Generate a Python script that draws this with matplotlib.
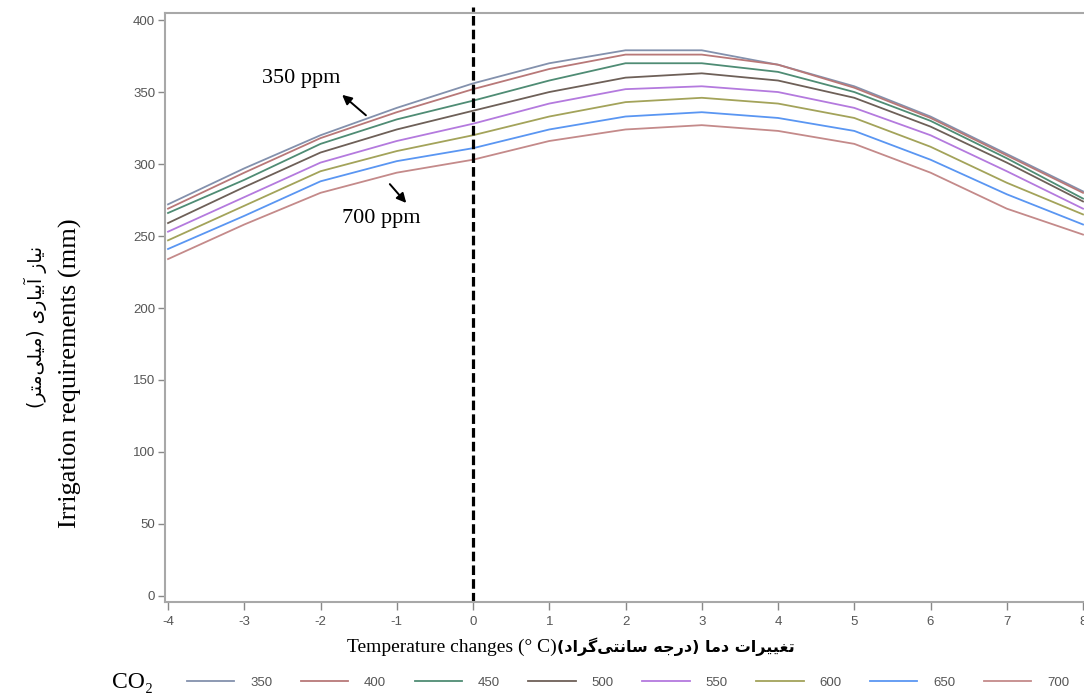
import numpy as np
import matplotlib.pyplot as plt

plt.rcParams['axes.unicode_minus'] = False

# temperature change steps and irrigation requirement (mm) per CO2 level
temp = [-4, -3, -2, -1, 0, 1, 2, 3, 4, 5, 6, 7, 8]
co2_levels = ['350', '400', '450', '500', '550', '600', '650', '700']
c350 = [272, 297, 320, 339, 356, 370, 379, 379, 369, 354, 333, 307, 281]
c400 = [269, 294, 318, 336, 352, 366, 376, 376, 369, 353, 332, 306, 280]
c450 = [266, 289, 314, 331, 344, 358, 370, 370, 364, 350, 330, 304, 276]
c500 = [259, 284, 308, 324, 337, 350, 360, 363, 358, 346, 326, 301, 274]
c550 = [253, 277, 301, 316, 328, 342, 352, 354, 350, 339, 320, 295, 269]
c600 = [247, 271, 295, 309, 320, 333, 343, 346, 342, 332, 312, 287, 265]
c650 = [241, 264, 288, 302, 311, 324, 333, 336, 332, 323, 303, 279, 258]
c700 = [234, 258, 280, 294, 303, 316, 324, 327, 323, 314, 294, 269, 251]
series = [c350, c400, c450, c500, c550, c600, c650, c700]
colors = ['#8391ad', '#b87878', '#4f8c74', '#6e6058', '#b47ade', '#a3a35a', '#5a96f2', '#c48a8a']

yticks = [0, 50, 100, 150, 200, 250, 300, 350, 400]

xlab_en = 'Temperature changes (° C)'
xlab_fa = 'تغییرات دما (درجه سانتی‌گراد)'
ylab_en = 'Irrigation requirements (mm)'
ylab_fa = 'نیاز آبیاری (میلی‌متر)'

# matplotlib does no arabic shaping, so pick presentation forms by hand
FORMS = {
    'ا': ('\uFE8D', '\uFE8E', None, None),
    'آ': ('\uFE81', '\uFE82', None, None),
    'ب': ('\uFE8F', '\uFE90', '\uFE91', '\uFE92'),
    'ت': ('\uFE95', '\uFE96', '\uFE97', '\uFE98'),
    'ج': ('\uFE9D', '\uFE9E', '\uFE9F', '\uFEA0'),
    'د': ('\uFEA9', '\uFEAA', None, None),
    'ر': ('\uFEAD', '\uFEAE', None, None),
    'ز': ('\uFEAF', '\uFEB0', None, None),
    'س': ('\uFEB1', '\uFEB2', '\uFEB3', '\uFEB4'),
    'غ': ('\uFECD', '\uFECE', '\uFECF', '\uFED0'),
    'گ': ('\uFB92', '\uFB93', '\uFB94', '\uFB95'),
    'ل': ('\uFEDD', '\uFEDE', '\uFEDF', '\uFEE0'),
    'م': ('\uFEE1', '\uFEE2', '\uFEE3', '\uFEE4'),
    'ن': ('\uFEE5', '\uFEE6', '\uFEE7', '\uFEE8'),
    'ه': ('\uFEE9', '\uFEEA', '\uFEEB', '\uFEEC'),
    'ی': ('\uFEEF', '\uFEF0', '\uFEF3', '\uFEF4'),
}


def shape(s):
    def dual(c):
        return c in FORMS and FORMS[c][2] is not None
    out = []
    for i, c in enumerate(s):
        if c == '\u200c':
            continue
        if c not in FORMS:
            out.append(c)
            continue
        prev = s[i - 1] if i > 0 else ''
        nxt = s[i + 1] if i + 1 < len(s) else ''
        jp = dual(prev)
        jn = dual(c) and nxt in FORMS
        iso, fin, ini, med = FORMS[c]
        out.append(med if (jp and jn) else fin if jp else ini if jn else iso)
    vis = ''.join(reversed(out))
    return vis.translate(str.maketrans('()', ')('))


fig = plt.figure(figsize=(10.84, 6.95), dpi=100)
ax = fig.add_axes([0.1522, 0.1338, 0.8478, 0.8475])

lines = []
for lvl, vals, col in zip(co2_levels, series, colors):
    ln, = ax.plot(temp, vals, color=col, lw=1.3, label=lvl)
    lines.append(ln)

ax.axvline(0, color='black', lw=2.3, linestyle=(0, (3, 1.3)), ymax=1.01, clip_on=False)

ax.set_xlim(-4.04, 8.013)
ax.set_ylim(-4.2, 404.9)
ax.set_xticks(temp)
ax.set_yticks(yticks)

tick_font = ['Liberation Sans Narrow', 'Liberation Sans', 'DejaVu Sans']
for lab in ax.get_xticklabels() + ax.get_yticklabels():
    lab.set_family(tick_font)
    lab.set_fontsize(9.5)
    lab.set_color('#555555')
ax.tick_params(axis='both', direction='out', length=5, width=1, color='#888888')
ax.tick_params(axis='x', length=6, pad=4)
ax.tick_params(axis='y', pad=2)

for side in ['left', 'bottom', 'top']:
    ax.spines[side].set_color('#a8a8a8')
    ax.spines[side].set_linewidth(1.5)
ax.spines['right'].set_visible(False)

# annotations for the two extreme CO2 levels
ax.annotate('', xy=(-1.744, 349.3), xytext=(-1.377, 332.6),
            arrowprops=dict(arrowstyle='-|>', color='black', lw=1.4, mutation_scale=14))
ax.text(-2.256, 359.7, '350 ppm', ha='center', va='center', fontsize=16, family='Liberation Serif')
ax.annotate('', xy=(-0.852, 271.5), xytext=(-1.115, 287.5),
            arrowprops=dict(arrowstyle='-|>', color='black', lw=1.4, mutation_scale=14))
ax.text(-1.207, 262.5, '700 ppm', ha='center', va='center', fontsize=16, family='Liberation Serif')

# axis titles (english + persian)
fig.text(0.514, 0.069, xlab_en, ha='right', va='center', fontsize=14, family='Liberation Serif')
fig.text(0.514, 0.069, shape(xlab_fa), ha='left', va='center', fontsize=11.5,
         weight='bold', family='DejaVu Sans')
fig.text(0.065, 0.463, ylab_en, ha='center', va='center', rotation=90, fontsize=19,
         family='Liberation Serif')
fig.text(0.033, 0.53, shape(ylab_fa), ha='center', va='center', rotation=90, fontsize=13.5,
         family='DejaVu Sans')

# legend row
fig.text(0.122, 0.0175, 'CO₂', ha='center', va='center', fontsize=17,
         family=['Liberation Serif', 'DejaVu Serif'])
leg = fig.legend(handles=lines, loc='center left', bbox_to_anchor=(0.1725, 0.0175), ncol=8,
                 frameon=False, borderpad=0, borderaxespad=0, handlelength=3.6,
                 handletextpad=1.2, columnspacing=2.15,
                 prop={'family': tick_font, 'size': 9.5})
for t in leg.get_texts():
    t.set_color('#555555')

fig.savefig('out.png', dpi=100, facecolor='white')
